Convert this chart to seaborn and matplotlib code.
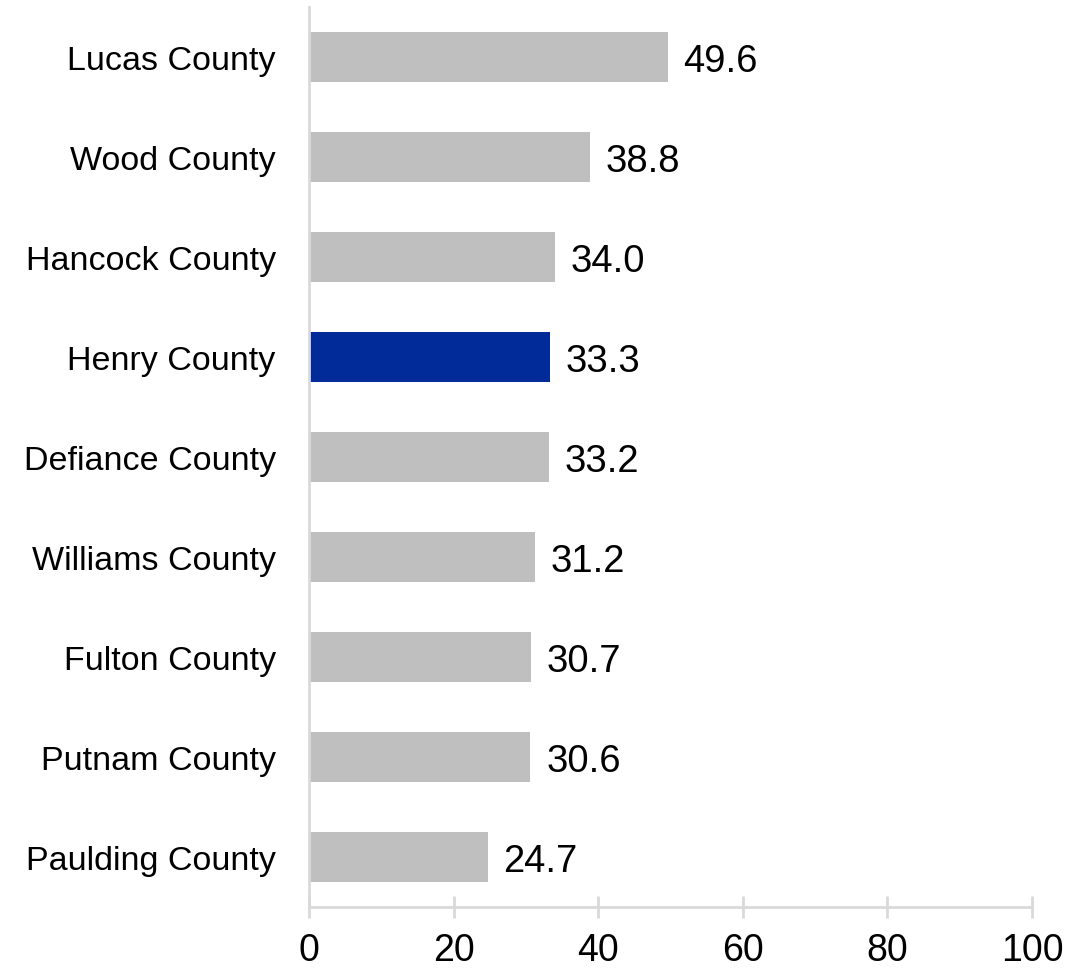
import numpy as np
import pandas as pd
import matplotlib
matplotlib.use('Agg')
import matplotlib.pyplot as plt
import seaborn as sns


COUNTIES = ['Lucas County', 'Wood County', 'Hancock County', 'Henry County',
            'Defiance County', 'Williams County', 'Fulton County',
            'Putnam County', 'Paulding County']
VALUES = [49.6, 38.8, 34.0, 33.3, 33.2, 31.2, 30.7, 30.6, 24.7]
HIGHLIGHT = 'Henry County'
X_TICKS = [0, 20, 40, 60, 80, 100]

GREY = '#bfbfbf'
BLUE = '#002b99'
AXIS_GREY = '#d9d9d9'

sns.set_style('white')
plt.rcParams['font.family'] = ['Liberation Sans', 'DejaVu Sans']
plt.rcParams['text.color'] = 'black'

df = pd.DataFrame({'county': COUNTIES, 'value': VALUES})
palette = {c: (BLUE if c == HIGHLIGHT else GREY) for c in COUNTIES}

fig = plt.figure(figsize=(10.91, 9.70), dpi=100)
ax = fig.add_axes([309 / 1091, 1 - 908 / 970, (1032 - 309) / 1091, 900 / 970])

sns.barplot(data=df, x='value', y='county', hue='county', palette=palette,
            order=COUNTIES, hue_order=COUNTIES, width=0.5, saturation=1,
            legend=False, linewidth=0, ax=ax)

# value labels just past the bar ends
for c, v in zip(COUNTIES, VALUES):
    ax.annotate(f'{v:.1f}', xy=(v, COUNTIES.index(c)), xytext=(11.5, 0),
                textcoords='offset points', va='center_baseline', ha='left',
                fontsize=27.5, color='black')

ax.set_xlim(0, 100)
ax.set_ylim(len(COUNTIES) - 0.5, -0.5)
ax.set_xticks(X_TICKS)
ax.set_xlabel('')
ax.set_ylabel('')

for side in ['top', 'right']:
    ax.spines[side].set_visible(False)
for side in ['left', 'bottom']:
    ax.spines[side].set_color(AXIS_GREY)
    ax.spines[side].set_linewidth(2)

ax.tick_params(axis='x', direction='inout', length=16, width=2,
               color=AXIS_GREY, labelsize=27, labelcolor='black', pad=10,
               bottom=True)
ax.tick_params(axis='y', length=0, labelsize=24.5, labelcolor='black', pad=24)

plt.savefig('out.png', dpi=100)
